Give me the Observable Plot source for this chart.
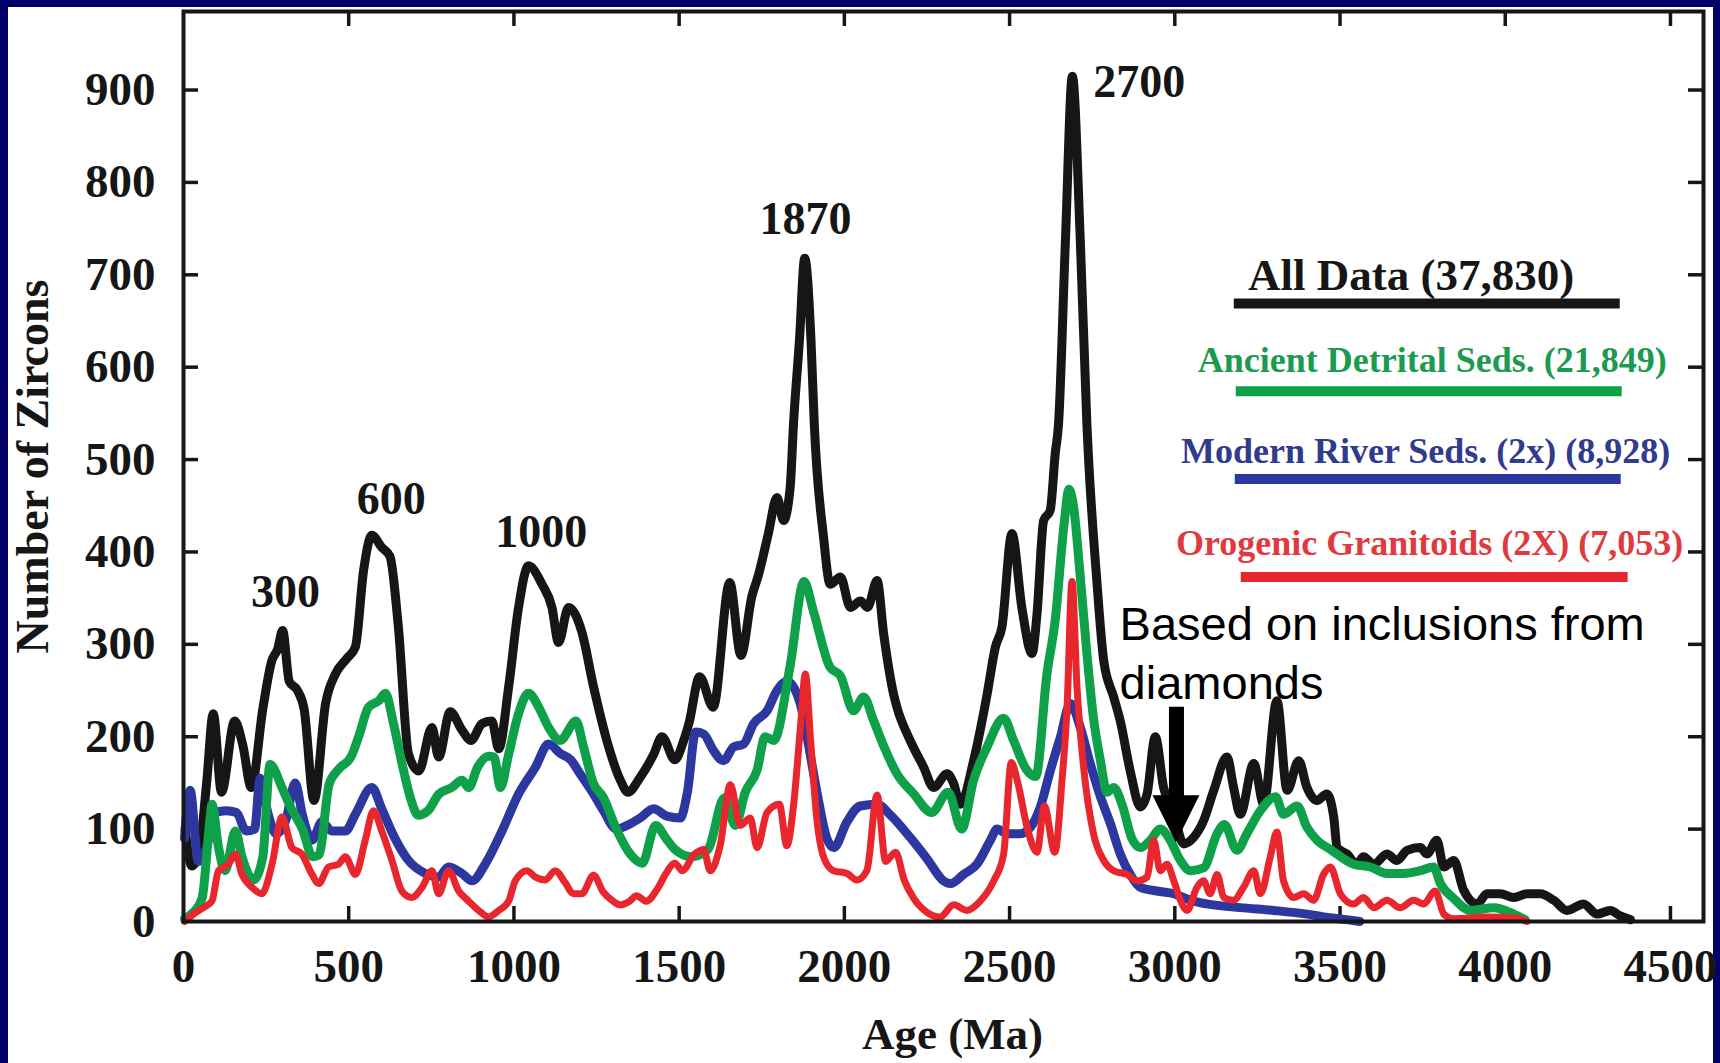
<!DOCTYPE html>
<html><head><meta charset="utf-8">
<script src="https://cdn.jsdelivr.net/npm/d3@7"></script>
<script src="https://cdn.jsdelivr.net/npm/@observablehq/plot@0.6"></script>
<style>
html,body{margin:0;padding:0;background:#000066;width:1720px;height:1063px;overflow:hidden}
#panel{position:absolute;left:8px;top:7px;width:1705px;height:1056px;background:#fff}
</style></head><body><div id="panel"></div>
<script>
// ---- Data: age (Ma), number of zircons ----
const allData = [[5,100],[25,60],[45,70],[70,150],[90,225],[115,140],[155,217],[180,190],[205,145],[240,230],[267,282],[285,295],[300,315],[320,260],[345,250],[365,230],[395,131],[430,236],[460,268],[495,285],[520,297],[545,380],[570,418],[600,405],[625,395],[650,320],[681,181],[712,163],[752,210],[772,178],[807,227],[843,207],[870,196],[903,214],[933,217],[954,187],[984,254],[1014,340],[1044,385],[1085,365],[1115,340],[1135,302],[1165,340],[1205,314],[1241,254],[1281,196],[1322,153],[1345,140],[1382,156],[1423,181],[1448,200],[1487,175],[1512,194],[1530,215],[1562,265],[1603,232],[1653,367],[1687,288],[1720,352],[1740,375],[1770,420],[1796,459],[1816,434],[1836,470],[1846,538],[1864,629],[1880,718],[1899,629],[1909,538],[1937,416],[1957,365],[1988,373],[2018,340],[2049,347],[2070,340],[2099,369],[2119,311],[2149,246],[2159,232],[2199,196],[2240,167],[2270,145],[2311,160],[2330,150],[2351,127],[2391,174],[2432,246],[2457,297],[2477,319],[2507,420],[2537,340],[2568,290],[2583,333],[2603,434],[2623,445],[2638,506],[2648,538],[2669,737],[2690,915],[2714,737],[2734,538],[2764,369],[2785,282],[2815,243],[2835,217],[2865,163],[2896,124],[2916,138],[2941,200],[2966,145],[2997,116],[3027,84],[3057,91],[3087,109],[3118,142],[3158,178],[3178,145],[3198,116],[3239,171],[3269,127],[3309,239],[3340,142],[3375,174],[3400,145],[3430,131],[3460,138],[3481,113],[3491,80],[3521,73],[3551,62],[3571,70],[3602,62],[3642,73],[3672,66],[3703,77],[3743,80],[3763,73],[3793,88],[3814,59],[3844,66],[3874,34],[3915,19],[3945,30],[3985,30],[4026,26],[4066,30],[4106,30],[4147,23],[4187,12],[4237,19],[4278,8],[4318,12],[4348,6],[4379,2]];

const ancientDetrital = [[3,3],[30,10],[56,25],[80,110],[86,127],[106,80],[126,55],[157,98],[177,70],[212,45],[240,70],[262,170],[298,145],[325,123],[360,100],[391,70],[410,72],[441,149],[470,165],[508,179],[530,200],[560,232],[591,239],[611,247],[635,215],[665,165],[690,130],[710,115],[740,120],[773,138],[812,145],[843,153],[863,145],[890,167],[923,179],[940,178],[959,145],[984,181],[1014,225],[1044,247],[1075,232],[1105,210],[1140,196],[1188,217],[1210,190],[1240,150],[1271,134],[1310,100],[1354,72],[1388,63],[1429,104],[1460,90],[1487,78],[1537,70],[1587,78],[1637,134],[1670,104],[1700,140],[1736,164],[1760,200],[1786,196],[1836,277],[1878,368],[1907,335],[1957,275],[1988,266],[2028,228],[2058,243],[2089,217],[2119,190],[2159,160],[2210,138],[2264,118],[2314,140],[2355,100],[2391,153],[2432,189],[2482,220],[2512,196],[2550,165],[2579,157],[2613,268],[2638,326],[2664,427],[2680,468],[2694,448],[2714,373],[2734,290],[2754,220],[2775,174],[2795,140],[2815,145],[2840,127],[2870,90],[2896,80],[2926,88],[2956,100],[2986,88],[3017,66],[3047,55],[3087,58],[3128,95],[3150,105],[3188,77],[3218,95],[3259,120],[3305,135],[3329,116],[3370,125],[3400,102],[3430,88],[3471,78],[3541,62],[3592,59],[3642,52],[3692,52],[3743,55],[3783,59],[3804,41],[3844,25],[3894,12],[3965,15],[4026,8],[4060,2]];

const modernRiver = [[3,90],[20,142],[45,65],[70,80],[95,118],[130,120],[160,118],[190,98],[215,100],[232,155],[255,118],[280,95],[310,110],[338,150],[360,115],[389,88],[419,108],[449,98],[490,98],[520,116],[570,145],[600,122],[640,90],[681,66],[732,52],[772,48],[802,59],[843,52],[873,44],[913,62],[964,98],[1014,138],[1065,167],[1105,192],[1140,182],[1172,175],[1200,160],[1241,138],[1271,120],[1310,100],[1342,104],[1382,112],[1423,122],[1463,114],[1503,112],[1525,140],[1550,205],[1574,203],[1604,185],[1634,174],[1665,189],[1695,192],[1725,214],[1766,228],[1796,250],[1826,260],[1846,254],[1867,235],[1887,200],[1917,140],[1947,90],[1968,80],[2008,108],[2048,125],[2099,127],[2140,115],[2199,91],[2250,68],[2300,44],[2321,41],[2361,51],[2401,62],[2442,88],[2462,100],[2492,95],[2532,95],[2563,102],[2593,124],[2623,163],[2654,200],[2684,236],[2714,210],[2744,171],[2775,135],[2805,106],[2835,73],[2865,51],[2896,37],[2946,33],[2997,30],[3047,23],[3097,19],[3198,15],[3299,12],[3400,8],[3450,5],[3520,2],[3560,0]];

const orogenicGranitoids = [[3,0],[30,8],[60,15],[86,22],[106,55],[136,62],[157,73],[177,51],[207,37],[237,30],[268,62],[298,113],[328,80],[358,73],[389,51],[409,41],[439,59],[469,62],[490,70],[520,51],[550,88],[575,120],[600,98],[631,66],[661,33],[691,26],[722,37],[752,55],[772,30],[802,55],[833,33],[863,22],[893,12],[923,5],[954,12],[984,22],[1004,44],[1039,55],[1065,48],[1095,45],[1125,55],[1155,42],[1180,30],[1205,30],[1241,50],[1270,32],[1300,22],[1321,18],[1350,22],[1371,28],[1400,22],[1437,37],[1460,52],[1487,63],[1510,55],[1544,72],[1574,78],[1594,55],[1624,82],[1655,148],[1685,104],[1715,112],[1736,80],[1766,118],[1803,127],[1826,82],[1846,125],[1867,210],[1882,268],[1897,200],[1917,110],[1937,70],[1967,55],[2008,52],[2038,45],[2068,55],[2099,137],[2125,65],[2155,75],[2181,45],[2210,25],[2250,10],[2290,5],[2331,18],[2371,12],[2411,22],[2452,44],[2482,73],[2505,172],[2525,150],[2553,102],[2583,75],[2605,125],[2637,75],[2658,150],[2674,232],[2689,368],[2704,254],[2724,167],[2754,95],[2785,66],[2815,55],[2855,51],[2886,44],[2916,48],[2936,88],[2956,55],[2976,62],[2997,44],[3017,23],[3037,12],[3067,37],[3087,44],[3107,30],[3128,51],[3148,26],[3178,23],[3208,37],[3239,55],[3259,30],[3289,70],[3309,97],[3329,44],[3360,26],[3390,30],[3420,23],[3450,51],[3471,59],[3501,30],[3541,19],[3571,26],[3602,15],[3642,23],[3682,15],[3723,23],[3753,19],[3788,33],[3814,8],[3844,3],[3945,5],[4026,4],[4066,0]];

const seriesNames = ["All Data (37,830)", "Ancient Detrital Seds. (21,849)", "Modern River Seds. (2x) (8,928)", "Orogenic Granitoids (2X) (7,053)"];
const seriesColors = ["#161616", "#0fa04a", "#2c379f", "#e8262d"];
const legendTextColors = ["#161616", "#1b9b4f", "#303b8e", "#e03a40"];
const peakTexts = ["300", "600", "1000", "1870"];
const xTicks = [0, 500, 1000, 1500, 2000, 2500, 3000, 3500, 4000, 4500];
const yTicks = [0, 100, 200, 300, 400, 500, 600, 700, 800, 900];
const annotation = "Based on inclusions from\ndiamonds";

// ---- Layout ----
const W = 1705, H = 1056, mL = 175, mR = 10, mT = 4, mB = 142;
const innerW = W - mL - mR, innerH = H - mT - mB;
const ink = "#161616";
const serif = '"Liberation Serif", "Times New Roman", serif';

// annotation placement (in data units)
const peakLabelPos = [[309, 356], [629, 457], [1083, 421], [1882, 760]];
const legendLayout = [
  {x1: 3180, x2: 4348, ly: 669, tx: 3715, ty: 684, size: 45},
  {x1: 3186, x2: 4354, ly: 574, tx: 3779, ty: 595, size: 36},
  {x1: 3183, x2: 4351, ly: 479, tx: 3759, ty: 496, size: 36},
  {x1: 3201, x2: 4372, ly: 373, tx: 3771, ty: 396.5, size: 36}
];

const series = [allData, ancientDetrital, modernRiver, orogenicGranitoids];
const widths = [9, 9, 9, 7];
const drawOrder = [0, 2, 1, 3];

const marks = [
  Plot.axisX(xTicks, {tickSize: 0, tickPadding: 27, fontSize: 47, fontWeight: "bold", fontFamily: serif, tickFormat: "d", label: null, fill: ink}),
  Plot.axisY(yTicks, {tickSize: 0, tickPadding: 28, fontSize: 47, fontWeight: "bold", fontFamily: serif, tickFormat: "d", label: null, fill: ink}),
  // inward ticks on all four sides
  Plot.tickX(xTicks.filter(d => d > 0), {x: d => d, insetTop: innerH - 15, stroke: ink, strokeWidth: 3.5}),
  Plot.tickX(xTicks.filter(d => d > 0), {x: d => d, insetBottom: innerH - 15, stroke: ink, strokeWidth: 3.5}),
  Plot.tickY(yTicks.filter(d => d > 0), {y: d => d, insetRight: innerW - 15, stroke: ink, strokeWidth: 3.5}),
  Plot.tickY(yTicks.filter(d => d > 0), {y: d => d, insetLeft: innerW - 15, stroke: ink, strokeWidth: 3.5}),
];

for (const i of drawOrder) {
  marks.push(Plot.line(series[i], {x: d => d[0], y: d => d[1], stroke: seriesColors[i], strokeWidth: widths[i], curve: "monotone-x", strokeLinejoin: "round", strokeLinecap: "round"}));
}

marks.push(Plot.frame({stroke: ink, strokeWidth: 4}));

// peak labels
marks.push(Plot.text(peakTexts, {x: (d, i) => peakLabelPos[i][0], y: (d, i) => peakLabelPos[i][1], text: d => d, fontSize: 46, fontWeight: "bold", fontFamily: serif, fill: ink}));
marks.push(Plot.text(["2700"], {x: 2753, y: 908, textAnchor: "start", fontSize: 46, fontWeight: "bold", fontFamily: serif, fill: ink}));

// legend
seriesNames.forEach((name, i) => {
  const L = legendLayout[i];
  marks.push(Plot.ruleY([L.ly], {x1: L.x1, x2: L.x2, stroke: seriesColors[i], strokeWidth: 10}));
  marks.push(Plot.text([name], {x: L.tx, y: L.ty, lineAnchor: "bottom", fontSize: L.size, fontWeight: "bold", fontFamily: serif, fill: legendTextColors[i]}));
});

// annotation + arrow
marks.push(Plot.text([annotation], {x: 2833, y: 241, textAnchor: "start", lineAnchor: "bottom", lineHeight: 1.26, fontSize: 47, fontWeight: "normal", fontFamily: '"Liberation Sans", Arial, sans-serif', fill: "#000"}));
marks.push(Plot.ruleX([3005], {y1: 232, y2: 130, stroke: "#000", strokeWidth: 15}));
marks.push(Plot.areaY([{x: 2934, a: 136, b: 136}, {x: 3005, a: 85, b: 136}, {x: 3076, a: 136, b: 136}], {x: "x", y1: "a", y2: "b", fill: "#000", curve: "linear"}));

// axis titles
marks.push(Plot.text(["Number of Zircons"], {frameAnchor: "left", textAnchor: "middle", dx: -150, rotate: -90, fontSize: 46, fontWeight: "bold", fontFamily: serif, fill: ink}));
marks.push(Plot.text(["Age (Ma)"], {frameAnchor: "bottom", lineAnchor: "bottom", dx: 9, dy: 127, fontSize: 45, fontWeight: "bold", fontFamily: serif, fill: ink}));

const chart = Plot.plot({
  width: W, height: H,
  marginLeft: mL, marginRight: mR, marginTop: mT, marginBottom: mB,
  style: {background: "white", fontFamily: serif, overflow: "visible"},
  x: {domain: [0, 4600]},
  y: {domain: [0, 985]},
  marks
});
document.getElementById("panel").appendChild(chart);
</script>
</body></html>
